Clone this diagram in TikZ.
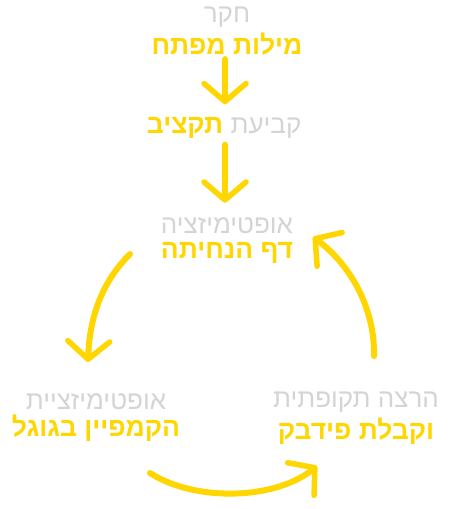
\documentclass[tikz,border=0pt]{standalone}
\usepackage{fontspec}
\usepackage{tikz}
\usetikzlibrary{arrows.meta, positioning}
\TeXXeTstate=1
\newfontfamily\hebfont[Script=Hebrew]{Liberation Sans}
\definecolor{myyellow}{RGB}{255,214,0}
\definecolor{mygray}{RGB}{212,212,212}
\tikzset{
  graytext/.style={text=mygray, font=\hebfont\fontsize{26}{30}\selectfont,
    inner sep=0pt, align=center},
  yellowtext/.style={text=myyellow, font=\hebfont\bfseries\fontsize{26.5}{30}\selectfont,
    inner sep=0pt, align=center},
  flow/.style={draw=myyellow, line width=6pt, line cap=round,
    -{Straight Barb[length=18pt, width=42pt, line width=5.5pt, round]}}
}

\begin{document}
\begin{tikzpicture}[x=1pt, y=-1pt]
  \fill[white] (0,0) rectangle (450,509);
  \useasboundingbox (0,0) rectangle (450,509);

  % Nodes
  \node[graytext] (research) at (227,17) {\beginR חקר\endR};
  \node[yellowtext, below=5pt of research] (keywords) {\beginR מילות מפתח\endR};
  \node[graytext] (budgetverb) at (266,128) {\beginR קביעת\endR};
  \node[yellowtext, left=7pt of budgetverb] (budget) {\beginR תקציב\endR};
  \node[graytext] (landopt) at (227,226) {\beginR אופטימיזציה\endR};
  \node[yellowtext, below=8pt of landopt] (landing) {\beginR דף הנחיתה\endR};
  \node[graytext] (campopt) at (96,402) {\beginR אופטימיזציית\endR};
  \node[yellowtext, below=5pt of campopt] (campaign) {\beginR הקמפיין בגוגל\endR};
  \node[graytext] (running) at (356,402) {\beginR הרצה תקופתית\endR};
  \node[yellowtext, below=5pt of running] (feedback) {\beginR וקבלת פידבק\endR};

  % Free ends of the curved arrows
  \coordinate (leftstart) at (130,254);
  \coordinate (leftend) at (88,362);
  \coordinate (bottomstart) at (150,473);
  \coordinate (bottomend) at (317,466);
  \coordinate (rightstart) at (374,356);
  \coordinate (rightend) at (313,237);

  % Paths
  \draw[flow, shorten <=4pt, shorten >=13pt] (keywords.south -| 225,0) -- (budget.north -| 225,0);
  \draw[flow, shorten <=6pt, shorten >=15pt] (budget.south -| 225,0) -- (landopt.north -| 225,0);
  \draw[flow] (leftstart) .. controls (110,274) and (90,305) .. (leftend);
  \draw[flow] (bottomstart) .. controls (195,502) and (275,500) .. (bottomend);
  \draw[flow] (rightstart) .. controls (375,310) and (352,266) .. (rightend);
\end{tikzpicture}
\end{document}
